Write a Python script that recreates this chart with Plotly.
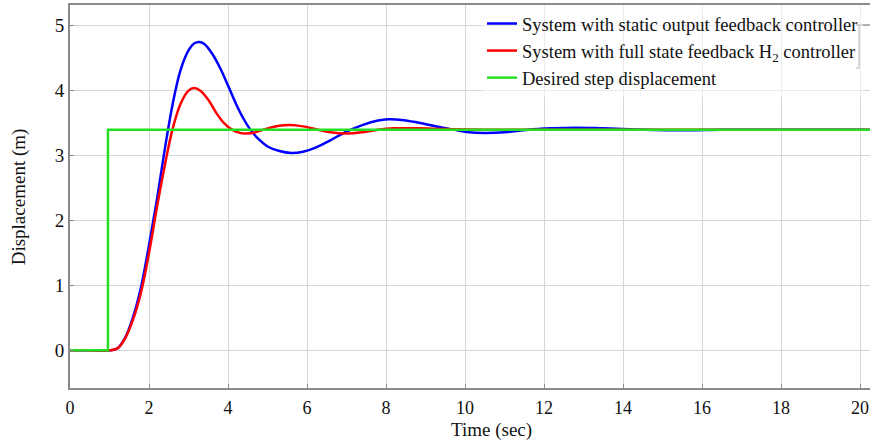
import plotly.graph_objects as go

# Time samples (s) and displacements (m)
t_blue = [0, 0.5, 1.0, 1.2, 1.4, 1.6, 1.8, 2.0, 2.2, 2.4, 2.6, 2.8, 3.0, 3.15, 3.27, 3.4, 3.6, 3.8,
          4.0, 4.2, 4.4, 4.6, 4.8, 5.0, 5.3, 5.6, 5.9, 6.2, 6.6, 7.0, 7.4, 7.8, 8.05, 8.4, 8.8,
          9.2, 9.7, 10.1, 10.5, 11.0, 11.6, 12.2, 12.8, 13.5, 14.5, 15.5, 16.5, 18.0, 20.3]
y_blue = [0, 0, 0, 0.03, 0.2, 0.52, 0.98, 1.62, 2.32, 3.1, 3.8, 4.32, 4.62, 4.73, 4.75, 4.72, 4.57, 4.35,
          4.08, 3.8, 3.56, 3.37, 3.24, 3.14, 3.07, 3.04, 3.06, 3.12, 3.24, 3.37, 3.47, 3.54, 3.56, 3.55, 3.51,
          3.46, 3.4, 3.36, 3.35, 3.36, 3.4, 3.42, 3.43, 3.42, 3.4, 3.39, 3.4, 3.4, 3.4]

t_red = [0, 0.5, 1.0, 1.2, 1.4, 1.6, 1.8, 2.0, 2.2, 2.4, 2.6, 2.8, 3.0, 3.14, 3.3, 3.5, 3.7, 3.9,
         4.1, 4.3, 4.45, 4.7, 5.0, 5.3, 5.56, 5.9, 6.2, 6.6, 6.97, 7.4, 7.8, 8.2, 8.8, 9.5, 10.5, 20.3]
y_red = [0, 0, 0, 0.03, 0.19, 0.48, 0.9, 1.5, 2.2, 2.85, 3.42, 3.8, 4.0, 4.04, 4.0, 3.86, 3.66, 3.5,
         3.4, 3.35, 3.34, 3.36, 3.42, 3.46, 3.47, 3.45, 3.41, 3.36, 3.34, 3.36, 3.4, 3.42, 3.42, 3.41, 3.4, 3.4]

t_green = [0, 0.96, 0.96, 20.3]
y_green = [0, 0, 3.4, 3.4]

names = ["System with static output feedback controller",
         "System with full state feedback H<sub>2</sub> controller",
         "Desired step displacement"]
x_ticks = [0, 2, 4, 6, 8, 10, 12, 14, 16, 18, 20]
y_ticks = [0, 1, 2, 3, 4, 5]

FONT = "'Liberation Serif', 'Times New Roman', serif"

fig = go.Figure()
fig.add_trace(go.Scatter(x=t_blue, y=y_blue, mode="lines", name=names[0],
                         line=dict(color="#0000ff", width=2.5, shape="spline", smoothing=1.0)))
fig.add_trace(go.Scatter(x=t_red, y=y_red, mode="lines", name=names[1],
                         line=dict(color="#ff0000", width=2.5, shape="spline", smoothing=1.0)))
fig.add_trace(go.Scatter(x=t_green, y=y_green, mode="lines", name=names[2],
                         line=dict(color="#22e022", width=2.5)))

fig.update_layout(
    width=870, height=444,
    margin=dict(l=70, r=0, t=5, b=56),
    paper_bgcolor="white", plot_bgcolor="white",
    font=dict(family=FONT, size=16, color="#111"),
    showlegend=True,
    legend=dict(x=0.515, y=1.0, xanchor="left", yanchor="top",
                bgcolor="rgba(255,255,255,0.5)", borderwidth=0,
                font=dict(family=FONT, size=18.5, color="#111"),
                tracegroupgap=0, itemwidth=30),
    xaxis=dict(range=[0, 20.25], tickvals=x_ticks, showgrid=True, gridcolor="#d6d6d6", gridwidth=1,
               showline=True, linecolor="#8a8a8a", linewidth=2, mirror=True,
               ticks="inside", ticklen=4, tickcolor="#8a8a8a", zeroline=False, automargin=False,
               ticklabeloverflow="allow",
               tickfont=dict(family=FONT, size=18), ticklabelstandoff=2),
    yaxis=dict(range=[-0.58, 5.32], tickvals=y_ticks, showgrid=True, gridcolor="#d6d6d6", gridwidth=1,
               showline=True, linecolor="#8a8a8a", linewidth=2, automargin=False,
               ticks="inside", ticklen=4, tickcolor="#8a8a8a", zeroline=False,
               tickfont=dict(family=FONT, size=19), ticklabelstandoff=0),
    shapes=[
        dict(type="path", xref="paper", yref="paper",
             path="M 0.9825,0.9478 L 0.98625,0.9478 L 0.98625,0.8355 L 0.9825,0.8355",
             line=dict(color="#9a9a9a", width=1.5)),
        dict(type="line", xref="paper", yref="paper", x0=0.98625, x1=1.0, y0=0.9478, y1=0.9478,
             line=dict(color="#9a9a9a", width=1.5)),
    ],
    annotations=[
        dict(text="Time (sec)", xref="paper", yref="paper", x=0.527, y=-0.11,
             xanchor="center", yanchor="middle", showarrow=False,
             font=dict(family=FONT, size=19, color="#111")),
        dict(text="Displacement (m)", xref="paper", yref="paper", x=-0.064, y=0.5,
             xanchor="center", yanchor="middle", showarrow=False, textangle=-90,
             font=dict(family=FONT, size=19, color="#111")),
    ],
)

fig.write_html("out.html", config={"displayModeBar": False},
               post_script="document.body.style.margin='0';document.body.style.overflow='hidden';")
